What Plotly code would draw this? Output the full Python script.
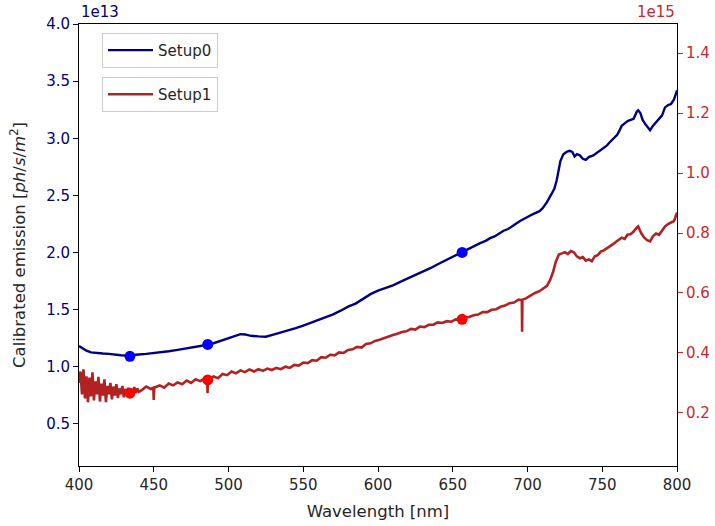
import plotly.graph_objects as go

# ---------------- data ----------------
# Setup0 (left axis, units of 1e13 ph/s/m^2)
setup0_wl = [400, 402, 405, 408, 412, 416, 420, 424, 428, 432, 436, 440, 445, 450, 455,
             460, 465, 470, 475, 480, 485, 490, 495, 500, 505, 508, 511, 515, 520, 525,
             530, 535, 540, 545, 550, 555, 560, 565, 570, 575, 580, 585, 590, 595, 600,
             605, 610, 617, 625, 630, 635, 639, 645, 650, 656, 660, 665, 668, 672, 675,
             678, 681, 684, 687, 690, 693, 695, 698, 700, 703, 706, 708, 710, 713, 716,
             718, 719.5, 721, 722, 724, 726, 728, 730, 731.5, 733, 735, 737, 739, 741, 744,
             747, 750, 753, 755, 758, 760, 762, 763, 765, 767, 769, 771, 773, 774, 775.5,
             777, 779, 781, 782, 784, 786, 788, 790, 792, 794, 796, 798, 800]
setup0_val = [1.180, 1.165, 1.140, 1.125, 1.118, 1.115, 1.112, 1.105, 1.100, 1.098, 1.100,
              1.106, 1.112, 1.118, 1.124, 1.135, 1.145, 1.155, 1.168, 1.180, 1.190, 1.205,
              1.228, 1.250, 1.272, 1.285, 1.282, 1.270, 1.265, 1.262, 1.280, 1.298, 1.318,
              1.338, 1.360, 1.385, 1.405, 1.432, 1.458, 1.490, 1.525, 1.552, 1.590, 1.635,
              1.665, 1.690, 1.712, 1.755, 1.800, 1.830, 1.862, 1.890, 1.930, 1.960, 2.000,
              2.030, 2.062, 2.080, 2.102, 2.125, 2.140, 2.168, 2.190, 2.205, 2.235, 2.258,
              2.275, 2.292, 2.310, 2.332, 2.350, 2.362, 2.385, 2.440, 2.510, 2.560, 2.630,
              2.740, 2.800, 2.860, 2.880, 2.890, 2.880, 2.840, 2.860, 2.850, 2.820, 2.810,
              2.835, 2.850, 2.880, 2.910, 2.935, 2.965, 3.000, 3.030, 3.080, 3.110, 3.130,
              3.150, 3.160, 3.170, 3.230, 3.245, 3.220, 3.160, 3.120, 3.080, 3.070, 3.110,
              3.140, 3.170, 3.200, 3.270, 3.290, 3.300, 3.340, 3.420]

# Setup1 (right axis, units of 1e15 ph/s/m^2)
setup1_wl = [400, 401, 402, 403, 404, 405, 406, 407, 408, 409, 410, 411, 412, 413, 414,
             415, 416, 417, 418, 419, 420, 421, 422, 423, 424, 425, 426, 427, 428, 429,
             430, 431, 432, 433, 434, 435, 436, 437, 438, 439, 440, 442, 445, 448, 449.7,
             450, 450.3, 451, 454, 457, 460, 463, 466, 469, 472, 475, 478, 481, 484, 485.8,
             486, 486.2, 487, 490, 493, 496, 499, 502, 505, 508, 511, 514, 517, 520, 523,
             526, 529, 532, 535, 538, 541, 544, 547, 550, 553, 556, 559, 562, 565, 568,
             571, 574, 577, 580, 583, 586, 589, 592, 595, 598, 601, 604, 607, 610, 613,
             616, 619, 622, 625, 628, 631, 634, 637, 640, 643, 646, 649, 652, 655, 658,
             661, 664, 667, 670, 673, 676, 679, 682, 685, 688, 691, 694, 696.2, 696.4, 696.6,
             699, 702, 705, 708, 711, 713, 715, 717, 719, 721, 723, 725, 727, 729, 731,
             733, 735, 737, 739, 741, 743, 745, 747, 749, 751, 753, 755, 757, 759, 761,
             763, 765, 767, 769, 771, 773, 774, 776, 778, 780, 782, 784, 786, 788, 790,
             792, 794, 796, 798, 800]
setup1_val = [0.300, 0.338, 0.262, 0.345, 0.248, 0.322, 0.236, 0.318, 0.255, 0.335, 0.242,
              0.305, 0.262, 0.320, 0.238, 0.298, 0.258, 0.312, 0.236, 0.290, 0.262, 0.300,
              0.245, 0.288, 0.258, 0.296, 0.250, 0.282, 0.262, 0.290, 0.252, 0.280, 0.262,
              0.284, 0.258, 0.278, 0.265, 0.286, 0.266, 0.282, 0.270, 0.276, 0.288, 0.280,
              0.284, 0.243, 0.284, 0.286, 0.292, 0.284, 0.298, 0.292, 0.302, 0.296, 0.308,
              0.300, 0.312, 0.306, 0.314, 0.312, 0.266, 0.312, 0.312, 0.322, 0.316, 0.330,
              0.326, 0.338, 0.332, 0.342, 0.336, 0.345, 0.338, 0.346, 0.340, 0.348, 0.343,
              0.350, 0.346, 0.354, 0.350, 0.360, 0.358, 0.368, 0.366, 0.376, 0.374, 0.386,
              0.384, 0.394, 0.392, 0.402, 0.400, 0.410, 0.412, 0.420, 0.418, 0.430, 0.432,
              0.440, 0.444, 0.450, 0.456, 0.460, 0.464, 0.470, 0.472, 0.480, 0.478, 0.488,
              0.486, 0.494, 0.494, 0.502, 0.500, 0.506, 0.504, 0.512, 0.510, 0.518, 0.520,
              0.526, 0.528, 0.536, 0.536, 0.544, 0.546, 0.554, 0.558, 0.566, 0.568, 0.578,
              0.576, 0.471, 0.578, 0.582, 0.592, 0.600, 0.606, 0.616, 0.624, 0.642, 0.668,
              0.705, 0.728, 0.732, 0.736, 0.730, 0.740, 0.736, 0.722, 0.716, 0.720, 0.708,
              0.712, 0.706, 0.722, 0.726, 0.738, 0.742, 0.748, 0.756, 0.762, 0.770, 0.776,
              0.784, 0.780, 0.795, 0.796, 0.805, 0.818, 0.822, 0.800, 0.785, 0.776, 0.772,
              0.790, 0.798, 0.794, 0.808, 0.822, 0.830, 0.836, 0.840, 0.868]

# Marked lines (H-gamma, H-beta, H-alpha)
mark_wl = [434.05, 486.13, 656.28]
mark0_val = [1.09, 1.195, 2.00]
mark1_val = [0.266, 0.310, 0.512]

x_ticks = [400, 450, 500, 550, 600, 650, 700, 750, 800]
y0_ticks = [0.5, 1.0, 1.5, 2.0, 2.5, 3.0, 3.5, 4.0]
y1_ticks = [0.2, 0.4, 0.6, 0.8, 1.0, 1.2, 1.4]

NAVY = "#000080"
FIRE = "#b22222"
RED_TXT = "#c8282d"
TXT = "#262626"
FONT = "DejaVu Sans"
FS = 15
FT = 16.5

fig = go.Figure()
fig.add_trace(go.Scatter(x=setup0_wl, y=setup0_val, mode="lines", name="Setup0",
                         line=dict(color=NAVY, width=2.4), yaxis="y", legend="legend"))
fig.add_trace(go.Scatter(x=setup1_wl, y=setup1_val, mode="lines", name="Setup1",
                         line=dict(color=FIRE, width=2.6), yaxis="y2", legend="legend2"))
fig.add_trace(go.Scatter(x=mark_wl, y=mark0_val, mode="markers", showlegend=False,
                         marker=dict(color="blue", size=11), yaxis="y"))
fig.add_trace(go.Scatter(x=mark_wl, y=mark1_val, mode="markers", showlegend=False,
                         marker=dict(color="red", size=11), yaxis="y2"))

fig.update_layout(
    width=715, height=526,
    margin=dict(l=79, r=38, t=24, b=60, autoexpand=False),
    plot_bgcolor="white", paper_bgcolor="white",
    font=dict(family=FONT, size=FS, color=TXT),
    xaxis=dict(range=[400, 800], tickvals=x_ticks, ticks="outside", ticklen=5,
               tickcolor="black", showline=True, linecolor="black", linewidth=1,
               mirror=True, showgrid=False, zeroline=False, automargin=False,
               tickfont=dict(family=FONT, size=FS, color=TXT),
               title=dict(text="Wavelength [nm]", standoff=12,
                          font=dict(family=FONT, size=FT, color=TXT))),
    yaxis=dict(range=[0.13, 4.0005], tickvals=y0_ticks, tickformat=".1f",
               ticks="outside", ticklen=5, tickcolor=NAVY, showline=True,
               linecolor="black", linewidth=1, showgrid=False, zeroline=False,
               automargin=False,
               tickfont=dict(family=FONT, size=FS, color=NAVY),
               title=dict(text="Calibrated emission [<i>ph</i>/<i>s</i>/<i>m</i><sup>2</sup>]",
                          standoff=16, font=dict(family=FONT, size=FT, color=TXT))),
    yaxis2=dict(range=[0.023, 1.497], tickvals=y1_ticks, tickformat=".1f",
                overlaying="y", side="right", anchor="x", automargin=False,
                ticks="outside", ticklen=5, tickcolor=RED_TXT, showline=True,
                linecolor="black", linewidth=1, showgrid=False, zeroline=False,
                tickfont=dict(family=FONT, size=FS, color=RED_TXT)),
    legend=dict(x=0.0385, y=0.98, xanchor="left", yanchor="top", bgcolor="white",
                bordercolor="#cccccc", borderwidth=1, itemwidth=45,
                font=dict(family=FONT, size=FS, color=TXT)),
    legend2=dict(x=0.0385, y=0.88, xanchor="left", yanchor="top", bgcolor="white",
                 bordercolor="#cccccc", borderwidth=1, itemwidth=45,
                 font=dict(family=FONT, size=FS, color=TXT)),
    annotations=[
        dict(text="1e13", xref="paper", yref="paper", x=0, y=1, xanchor="left",
             yanchor="bottom", yshift=1, showarrow=False,
             font=dict(family=FONT, size=FS, color=NAVY)),
        dict(text="1e15", xref="paper", yref="paper", x=1, y=1, xanchor="right",
             yanchor="bottom", yshift=1, showarrow=False,
             font=dict(family=FONT, size=FS, color=RED_TXT)),
    ],
)

fig.write_html("out.html")
